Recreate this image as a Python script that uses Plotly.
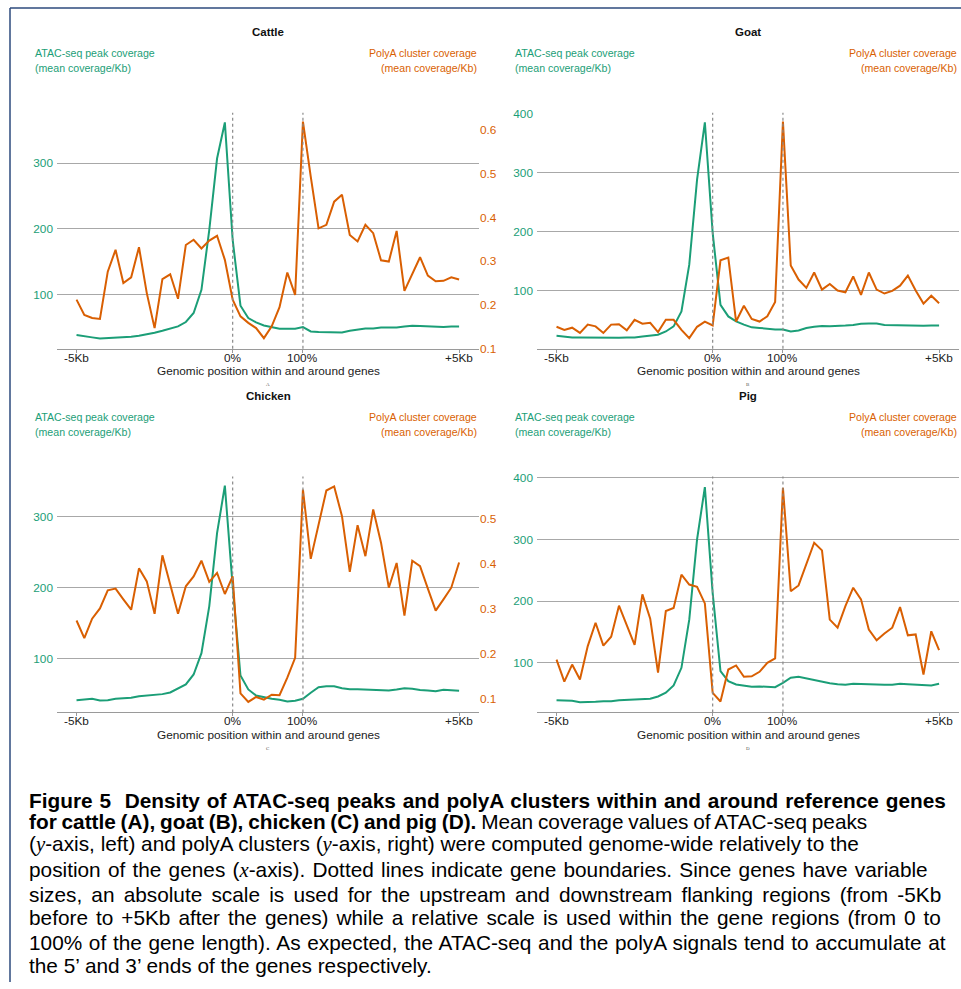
import plotly.graph_objects as go

W, H = 961, 989
GREEN = "#1b9e77"
ORANGE = "#d95f02"
FONT = "Liberation Sans, Arial, sans-serif"

# Bin positions: 20 upstream bins (-5Kb..0), 9 gene bins (0%..100%), 20 downstream bins (..+5Kb)
bins = list(range(50))
x_tickvals = [0, 20, 29, 49]
x_ticktext = ["-5Kb", "0%", "100%", "+5Kb"]

cattle_atac = [38.2, 36.0, 34.6, 33.0, 33.6, 34.0, 34.6, 35.6, 37.0, 39.0,
               41.7, 44.7, 47.8, 51.3, 58.0, 71.7, 107, 198, 307, 362,
               183, 82.8, 64.0, 57.4, 52.8, 49.8, 47.8, 47.8, 47.8, 50.4,
               43.7, 42.8, 42.8, 42.8, 42.0, 44.7, 46.3, 48.0, 48.3, 49.5,
               49.5, 49.5, 51.3, 52.5, 52.0, 51.3, 50.4, 50.4, 51.0, 51.3]
cattle_polya = [0.212, 0.177, 0.170, 0.168, 0.276, 0.326, 0.250, 0.263, 0.332, 0.227,
                0.147, 0.259, 0.270, 0.214, 0.337, 0.349, 0.329, 0.347, 0.358, 0.303,
                0.212, 0.174, 0.159, 0.147, 0.124, 0.151, 0.195, 0.274, 0.223, 0.619,
                0.493, 0.375, 0.383, 0.436, 0.452, 0.360, 0.345, 0.383, 0.364, 0.302,
                0.299, 0.369, 0.232, 0.271, 0.309, 0.267, 0.254, 0.255, 0.263, 0.258]

goat_atac = [23.9, 22.0, 21.0, 20.8, 20.5, 20.5, 20.5, 20.5, 20.6, 20.8,
             21.0, 22.5, 24.0, 25.5, 31.0, 39.6, 65.0, 144, 288, 385,
             198, 76.0, 56.5, 48.0, 42.5, 38.0, 37.0, 35.7, 34.5, 34.5,
             31.0, 32.8, 37.0, 39.0, 40.3, 40.0, 40.0, 41.0, 42.0, 44.0,
             44.5, 44.5, 42.0, 41.5, 41.0, 40.5, 40.0, 40.5, 41.0, 41.0]
goat_polya = [0.150, 0.143, 0.148, 0.136, 0.155, 0.151, 0.136, 0.155, 0.156, 0.142,
              0.166, 0.157, 0.159, 0.138, 0.166, 0.166, 0.143, 0.124, 0.150, 0.162,
              0.153, 0.302, 0.308, 0.162, 0.198, 0.168, 0.162, 0.174, 0.207, 0.619,
              0.290, 0.258, 0.239, 0.274, 0.235, 0.248, 0.233, 0.229, 0.265, 0.223,
              0.274, 0.235, 0.226, 0.232, 0.244, 0.267, 0.233, 0.203, 0.221, 0.204]

chicken_atac = [41.7, 42.2, 43.7, 41.3, 41.7, 43.7, 44.5, 45.0, 47.3, 48.3,
                49.3, 50.2, 52.5, 57.7, 63.8, 77.9, 108, 174, 277, 344,
                202, 76.5, 56.8, 48.3, 45.9, 43.7, 42.2, 39.9, 41.0, 43.7,
                52.1, 60.0, 61.4, 61.4, 58.6, 57.2, 57.2, 56.8, 55.4, 55.0,
                55.4, 56.8, 58.6, 57.7, 56.0, 55.4, 54.4, 56.3, 56.0, 55.0]
chicken_polya = [0.274, 0.235, 0.278, 0.301, 0.341, 0.345, 0.321, 0.298, 0.390, 0.361,
                 0.289, 0.419, 0.354, 0.289, 0.350, 0.372, 0.407, 0.360, 0.380, 0.333,
                 0.372, 0.112, 0.093, 0.104, 0.098, 0.109, 0.108, 0.147, 0.191, 0.565,
                 0.411, 0.487, 0.563, 0.572, 0.506, 0.382, 0.486, 0.417, 0.521, 0.447,
                 0.347, 0.402, 0.285, 0.407, 0.395, 0.345, 0.296, 0.321, 0.347, 0.403]

pig_atac = [39.4, 39.0, 38.4, 36.2, 36.2, 36.7, 37.8, 37.8, 39.4, 40.0,
            40.5, 41.0, 41.6, 45.4, 51.4, 63.2, 91.9, 170, 300, 385,
            213, 86.5, 70.3, 64.9, 63.2, 61.1, 61.6, 60.5, 60.5, 67.6,
            75.7, 77.3, 74.6, 71.4, 68.6, 67.0, 65.4, 64.3, 66.0, 65.4,
            64.3, 64.0, 64.3, 64.3, 66.0, 65.4, 65.0, 64.0, 63.2, 66.0]
pig_polya = [0.187, 0.138, 0.176, 0.143, 0.217, 0.269, 0.218, 0.238, 0.307, 0.265,
             0.220, 0.332, 0.278, 0.158, 0.295, 0.302, 0.376, 0.354, 0.349, 0.312,
             0.113, 0.094, 0.165, 0.174, 0.149, 0.150, 0.160, 0.180, 0.190, 0.569,
             0.339, 0.352, 0.400, 0.447, 0.430, 0.276, 0.258, 0.306, 0.347, 0.321,
             0.254, 0.230, 0.245, 0.258, 0.304, 0.241, 0.243, 0.154, 0.250, 0.208]

panels = [
    dict(name="Cattle", letter="A", atac=cattle_atac, polya=cattle_polya,
         ox=0, oy=0, yl=[17.4, 376.6], ylt=[100, 200, 300],
         yr=[0.1, 0.639], yrt=[0.1, 0.2, 0.3, 0.4, 0.5, 0.6], show_right=True),
    dict(name="Goat", letter="B", atac=goat_atac, polya=goat_polya,
         ox=480, oy=0, yl=[1.9, 401], ylt=[100, 200, 300, 400],
         yr=[0.1, 0.639], yrt=[0.1, 0.2, 0.3, 0.4, 0.5, 0.6], show_right=False),
    dict(name="Chicken", letter="C", atac=chicken_atac, polya=chicken_polya,
         ox=0, oy=364, yl=[24.4, 356.8], ylt=[100, 200, 300],
         yr=[0.0696, 0.594], yrt=[0.1, 0.2, 0.3, 0.4, 0.5], show_right=True),
    dict(name="Pig", letter="D", atac=pig_atac, polya=pig_polya,
         ox=480, oy=364, yl=[19.5, 402], ylt=[100, 200, 300, 400],
         yr=[0.0696, 0.594], yrt=[0.1, 0.2, 0.3, 0.4, 0.5], show_right=False),
]


def px(x):
    return x / W


def py(y):
    return 1 - (y - 6.1) / (0.9875 * H)


fig = go.Figure()
annotations = []
shapes = []
layout = {}


def note(text, x, y, size, color="#222", xanchor="center", yanchor="middle",
         family=FONT, xref="paper", xdata=None):
    annotations.append(dict(text=text, x=px(x) if xdata is None else xdata, y=py(y),
                            xref=xref, yref="paper",
                            xanchor=xanchor, yanchor=yanchor, showarrow=False,
                            font=dict(size=size, color=color, family=family)))


for k, p in enumerate(panels, start=1):
    ox, oy = p["ox"], p["oy"]
    xa = "x" if k == 1 else f"x{k}"
    yl_id = 2 * k - 1
    yr_id = 2 * k
    yl = "y" if yl_id == 1 else f"y{yl_id}"
    yr = f"y{yr_id}"

    fig.add_trace(go.Scatter(x=bins, y=p["atac"], mode="lines", xaxis=xa, yaxis=yl,
                             line=dict(color=GREEN, width=2), showlegend=False))
    fig.add_trace(go.Scatter(x=bins, y=p["polya"], mode="lines", xaxis=xa, yaxis=yr,
                             line=dict(color=ORANGE, width=2), showlegend=False))

    dom_x = [px(57 + ox), px(479 + ox)]
    dom_y = [py(349 + oy), py(113 + oy)]
    xkey = "xaxis" if k == 1 else f"xaxis{k}"
    layout[xkey] = dict(domain=dom_x, anchor=yl, range=[-2.5, 51.55],
                        tickvals=x_tickvals, showticklabels=False,
                        showline=True, linecolor="#9a9a9a", linewidth=1,
                        ticks="outside", ticklen=3, tickcolor="#9a9a9a",
                        showgrid=False, zeroline=False)
    ylkey = "yaxis" if yl_id == 1 else f"yaxis{yl_id}"
    layout[ylkey] = dict(domain=dom_y, anchor=xa, range=p["yl"], tickvals=p["ylt"],
                         showgrid=True, gridcolor="#a8a8a8", gridwidth=1.2,
                         zeroline=False, showline=False, ticks="",
                         ticklabelstandoff=3,
                         tickfont=dict(size=11.8, color=GREEN, family=FONT))
    layout[f"yaxis{yr_id}"] = dict(domain=dom_y, anchor=xa, overlaying=yl, side="right",
                                   range=p["yr"], tickvals=p["yrt"],
                                   showticklabels=p["show_right"],
                                   showgrid=False, zeroline=False, showline=False, ticks="",
                                   tickfont=dict(size=11.8, color=ORANGE, family=FONT))

    # x tick labels, placed just under the axis line
    for tv, tt in zip(x_tickvals, x_ticktext):
        note(tt, 0, 358 + oy, 11.8, "#222", xref=xa, xdata=tv)

    # gene boundaries
    for xb in (20, 29):
        shapes.append(dict(type="line", xref=xa, yref=f"{yl} domain", x0=xb, x1=xb,
                           y0=0, y1=1, line=dict(color="#8a8a8a", width=1.2, dash="dot")))

    note(f"<b>{p['name']}</b>", 268 + ox, 32 + oy, 11.5, color="#111")
    note("ATAC-seq peak coverage", 33 + ox, 53 + oy, 10.6, GREEN, xanchor="left")
    note("(mean coverage/Kb)", 33 + ox, 68 + oy, 10.6, GREEN, xanchor="left")
    note("PolyA cluster coverage", 479 + ox, 53 + oy, 10.6, ORANGE, xanchor="right")
    note("(mean coverage/Kb)", 479 + ox, 68 + oy, 10.6, ORANGE, xanchor="right")
    note("Genomic position within and around genes", 268 + ox, 371.5 + oy, 11.8, "#222")
    note(p["letter"], 268 + ox, 385 + oy, 5, "#555", family="Liberation Serif, serif")

# page frame
shapes.append(dict(type="line", xref="paper", yref="paper", x0=px(10), x1=1.0,
                   y0=py(8), y1=py(8), line=dict(color="#2c4a7c", width=1.5)))
shapes.append(dict(type="line", xref="paper", yref="paper", x0=px(10), x1=px(10),
                   y0=py(8), y1=0.0, line=dict(color="#2c4a7c", width=1.5)))

IT = "<span style=\"font-family:'Liberation Serif',serif;font-style:italic\">{}</span>"
caption_lines = [
    "<b>Figure 5  Density of ATAC-seq peaks and polyA clusters within and around reference genes</b>",
    "<b>for cattle (A), goat (B), chicken (C) and pig (D).</b> Mean coverage values of ATAC-seq peaks",
    "(" + IT.format("y") + "-axis, left) and polyA clusters (" + IT.format("y")
    + "-axis, right) were computed genome-wide relatively to the",
    "position of the genes (" + IT.format("x")
    + "-axis). Dotted lines indicate gene boundaries. Since genes have variable",
    "sizes, an absolute scale is used for the upstream and downstream flanking regions (from -5Kb",
    "before to +5Kb after the genes) while a relative scale is used within the gene regions (from 0 to",
    "100% of the gene length). As expected, the ATAC-seq and the polyA signals tend to accumulate at",
    "the 5\u2019 and 3\u2019 ends of the genes respectively.",
]
caption_y = [801, 822, 845, 870, 895, 918, 943, 966]
caption_word_gap = [1.1, -1.0, 0, 1.45, 3.4, 2.2, 0.9, 0]
for line, yy, gap in zip(caption_lines, caption_y, caption_word_gap):
    text = f'<span style="word-spacing:{gap}px">{line}</span>' if gap else line
    note(text, 27, yy, 20.8, "#000", xanchor="left")

fig.update_layout(width=W, height=H, margin=dict(l=0, r=0, t=0, b=0),
                  paper_bgcolor="white", plot_bgcolor="white",
                  annotations=annotations, shapes=shapes, **layout)

fig.write_html("out.html")
